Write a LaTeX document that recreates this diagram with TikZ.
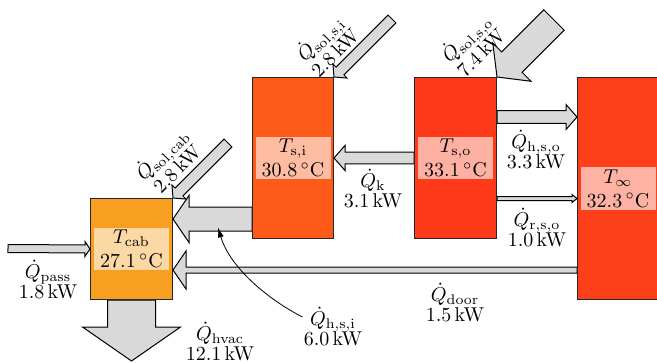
\documentclass[tikz,border=0pt]{standalone}
\usetikzlibrary{calc,arrows.meta}
\definecolor{cabcol}{RGB}{248,158,32}
\definecolor{sicol}{RGB}{253,90,26}
\definecolor{socol}{RGB}{254,58,26}
\definecolor{infcol}{RGB}{254,64,26}
\tikzset{
 fatarrow/.style={draw=black, line width=0.5pt, fill=black!15, line join=miter},
 zone/.style={draw=black!85, line width=0.5pt, anchor=north west, inner sep=0pt},
 templab/.style={fill=white, fill opacity=0.6, text opacity=1, align=center, inner sep=1pt, minimum width=37.5pt, minimum height=20.5pt},
 qlab/.style={align=center, inner sep=0.5pt},
 pointer/.style={-{Latex[length=5pt,width=3pt]}, line width=0.4pt},
}
\newcommand{\fatarr}[5]{%
  \coordinate (fah) at ($(#2)!#4!(#1)$);
  \draw[fatarrow] ($(#1)!#3!90:(#2)$) -- ($(fah)!#3!90:(#2)$) -- ($(fah)!#5!90:(#2)$) -- (#2) -- ($(fah)!#5!-90:(#2)$) -- ($(fah)!#3!-90:(#2)$) -- ($(#1)!#3!-90:(#2)$) -- cycle;}
\newcommand{\qd}[1]{$\dot Q_{\mathrm{#1}}$}
\begin{document}
\begin{tikzpicture}[x=0.5pt,y=-0.5pt]
\useasboundingbox (0,0) rectangle (657,363);
% zones (placed first as invisible paths for anchors)
\path (90,198) node[zone, draw=none, minimum width=41pt, minimum height=50.5pt] (cab) {};
\path (252,77) node[zone, draw=none, minimum width=40.5pt, minimum height=80.5pt] (si) {};
\path (414,77) node[zone, draw=none, minimum width=41pt, minimum height=80.5pt] (so) {};
\path (577,77) node[zone, draw=none, minimum width=40.5pt, minimum height=111pt] (inf) {};
% coordinates
\coordinate (passS) at (8,248.5);
\coordinate (hvacT) at ($(cab.south)+(0,61)$);
\coordinate (hsiS) at ($(si.west)+(0,61)$);
\coordinate (hsiT) at ($(cab.east)+(0,-30)$);
\coordinate (doorS) at ($(inf.west)+(0,81.5)$);
\coordinate (doorT) at ($(cab.east)+(0,21)$);
\coordinate (hsoS) at ($(so.east)+(0,-41)$);
\coordinate (hsoT) at ($(inf.west)+(0,-71.5)$);
\coordinate (rsoS) at ($(so.east)+(0,40.5)$);
\coordinate (rsoT) at ($(inf.west)+(0,10)$);
\coordinate (solsiS) at ($(si.north east)+(58,-58)$);
\coordinate (solcabS) at ($(cab.north east)+(55,-55)$);
\coordinate (solsoS) at ($(so.north east)+(57,-57)$);
\coordinate (hsiP) at ($(cab.east)+(45,-21.5)$);
% fat arrows
\fatarr{passS}{cab.west}{2pt}{2.5pt}{3.7pt}
\fatarr{cab.south}{hvacT}{12pt}{17pt}{24.5pt}
\fatarr{doorS}{doorT}{1.5pt}{6.5pt}{9.5pt}
\fatarr{hsiS}{hsiT}{6pt}{8pt}{11.75pt}
\fatarr{so.west}{si.east}{2.9pt}{5.5pt}{6.25pt}
\fatarr{hsoS}{hsoT}{3.2pt}{5.5pt}{6.25pt}
\fatarr{rsoS}{rsoT}{1pt}{2.5pt}{2pt}
\fatarr{solcabS}{cab.north east}{2.8pt}{4.25pt}{5pt}
\fatarr{solsiS}{si.north east}{2.8pt}{4.25pt}{5pt}
\fatarr{solsoS}{so.north east}{7.2pt}{10.5pt}{13.5pt}
% zones drawn
\node[zone, fill=cabcol, minimum width=41pt, minimum height=50.5pt] at (90,198) {};
\node[zone, fill=sicol, minimum width=40.5pt, minimum height=80.5pt] at (252,77) {};
\node[zone, fill=socol, minimum width=41pt, minimum height=80.5pt] at (414,77) {};
\node[zone, fill=infcol, minimum width=40.5pt, minimum height=111pt] at (577,77) {};
% temperature labels
\node[templab] (cabT) at (cab.center) {$T_{\mathrm{cab}}$\\27.1\,$^{\circ}$C};
\node[templab] (siT) at (si.center) {$T_{\mathrm{s,i}}$\\30.8\,$^{\circ}$C};
\node[templab] (soT) at (so.center) {$T_{\mathrm{s,o}}$\\33.1\,$^{\circ}$C};
\node[templab] (infT) at (inf.center) {$T_{\infty}$\\32.3\,$^{\circ}$C};
% flow labels
\node[qlab] (passlab) at (48,280) {\qd{pass}\\[-2pt]1.8\,kW};
\node[qlab] (hvaclab) at (220,342) {\qd{hvac}\\[-2pt]12.1\,kW};
\node[qlab] (hsilab) at (333,327) {\qd{h,s,i}\\[-2pt]6.0\,kW};
\node[qlab] (doorlab) at (455,303) {\qd{door}\\[-2pt]1.5\,kW};
\node[qlab] (rsolab) at (537,228) {\qd{r,s,o}\\[-2pt]1.0\,kW};
\node[qlab] (hsolab) at (536,150) {\qd{h,s,o}\\[-2pt]3.3\,kW};
\node[qlab] (klab) at (373,189) {\qd{k}\\[-2pt]3.1\,kW};
\node[qlab, rotate=45] (solsilab) at (326,44) {\qd{sol,s,i}\\[-1.5pt]2.8\,kW};
\node[qlab, rotate=45] (solsolab) at (472,44) {\qd{sol,s,o}\\[-1.5pt]7.4\,kW};
\node[qlab, rotate=45] (solcablab) at (168,160) {\qd{sol,cab}\\[-1.5pt]2.8\,kW};
% pointer
\draw[pointer] ($(hsilab.west)+(0,-10)$) .. controls +(-35,-18) and +(12,40) .. (hsiP);
\end{tikzpicture}
\end{document}
